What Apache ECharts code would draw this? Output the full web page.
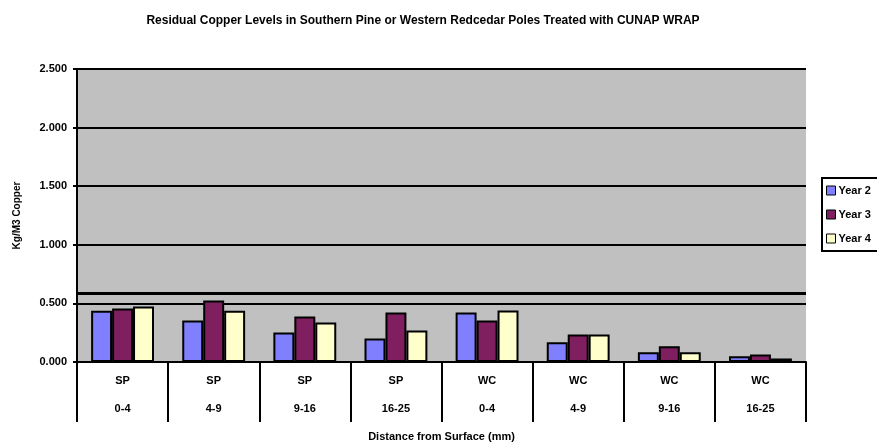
<!DOCTYPE html>
<html>
<head>
<meta charset="utf-8">
<script src="https://cdn.jsdelivr.net/npm/echarts@6/dist/echarts.min.js"></script>
<style>
  html, body { margin: 0; padding: 0; background: #fff; }
  #chart { width: 877px; height: 444px; }
</style>
</head>
<body>
<div id="chart"></div>
<script>
// wood species / depth zone pairs
const species = ['SP', 'SP', 'SP', 'SP', 'WC', 'WC', 'WC', 'WC'];
const depths = ['0-4', '4-9', '9-16', '16-25', '0-4', '4-9', '9-16', '16-25'];

// copper retention, kg/m3
const year2 = [0.437, 0.354, 0.251, 0.200, 0.422, 0.168, 0.083, 0.048];
const year3 = [0.456, 0.525, 0.388, 0.422, 0.354, 0.235, 0.134, 0.065];
const year4 = [0.474, 0.437, 0.336, 0.268, 0.440, 0.235, 0.083, 0.030];

const threshold = 0.59;

const categories = species.map((s, i) => s + '\n' + depths[i]);

const font = 'Liberation Sans, Arial, sans-serif';

let myChart = echarts.init(document.getElementById('chart'));

function barSeries(name, data, color) {
	return {
		name: name,
		type: 'bar',
		data: data,
		barGap: '0%',
		barCategoryGap: '31%',
		itemStyle: {
			color: color,
			borderColor: '#000',
			borderWidth: 2
		}
	};
}

let series = [
	barSeries('Year 2', year2, '#8080ff'),
	barSeries('Year 3', year3, '#7f1f5f'),
	barSeries('Year 4', year4, '#ffffcc')
];

series[0].markLine = {
	silent: true,
	symbol: 'none',
	label: { show: false },
	lineStyle: { color: '#000', width: 3, type: 'solid' },
	data: [{ yAxis: threshold }]
};

myChart.setOption({
	animation: false,
	textStyle: { fontFamily: font },
	title: {
		text: 'Residual Copper Levels in Southern Pine or Western Redcedar Poles Treated with CUNAP WRAP',
		left: 418,
		top: 10,
		textAlign: 'center',
		textStyle: { fontSize: 12, fontWeight: 'bold', color: '#000', fontFamily: font }
	},
	legend: {
		orient: 'vertical',
		left: 822,
		top: 178,
		itemWidth: 9,
		itemHeight: 9,
		itemGap: 13,
		padding: [7, 20, 7, 4],
		borderColor: '#000',
		borderWidth: 2,
		backgroundColor: '#fff',
		icon: 'rect',
		itemStyle: { borderColor: '#000', borderWidth: 1 },
		textStyle: { fontSize: 11, fontWeight: 'bold', color: '#000', padding: [0, 0, 0, -2] },
		data: ['Year 2', 'Year 3', 'Year 4']
	},
	grid: {
		left: 77,
		right: 71,
		top: 69,
		bottom: 82,
		outerBoundsMode: 'none',
		show: true,
		backgroundColor: '#c0c0c0',
		borderWidth: 0
	},
	xAxis: {
		type: 'category',
		data: categories,
		name: 'Distance from Surface (mm)',
		nameLocation: 'middle',
		nameGap: 69,
		nameTextStyle: { fontSize: 11, fontWeight: 'bold', color: '#000' },
		axisLine: { lineStyle: { color: '#000', width: 2 } },
		axisTick: { show: true, interval: 0, length: 60, lineStyle: { color: '#000', width: 2 } },
		axisLabel: {
			interval: 0,
			margin: 5,
			fontSize: 11,
			fontWeight: 'bold',
			color: '#000',
			lineHeight: 28
		}
	},
	yAxis: {
		type: 'value',
		min: 0,
		max: 2.5,
		interval: 0.5,
		name: 'Kg/M3 Copper',
		nameLocation: 'middle',
		nameGap: 55,
		nameTextStyle: { fontSize: 10, fontWeight: 'bold', color: '#000' },
		axisLine: { show: true, lineStyle: { color: '#000', width: 2 } },
		axisTick: { show: true, length: 4, lineStyle: { color: '#000', width: 2 } },
		axisLabel: {
			fontSize: 11,
			fontWeight: 'bold',
			color: '#000',
			margin: 10,
			formatter: v => v.toFixed(3)
		},
		splitLine: { lineStyle: { color: '#000', width: 2 } }
	},
	series: series
});
</script>
</body>
</html>
